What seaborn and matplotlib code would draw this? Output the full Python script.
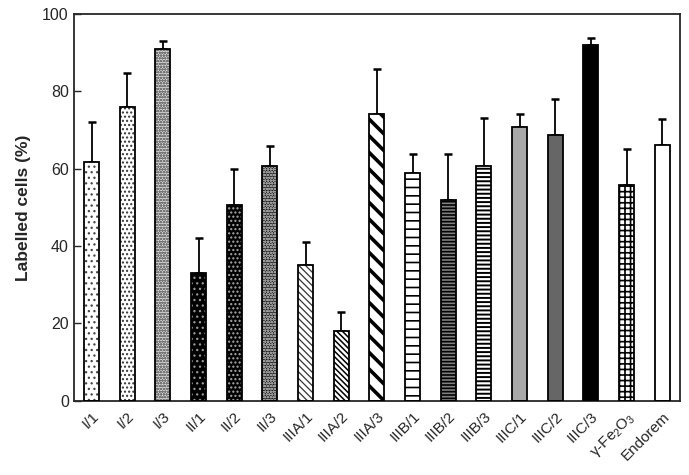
import matplotlib
matplotlib.use("Agg")
import matplotlib.pyplot as plt
import seaborn as sns
import pandas as pd

# values
samples = ["I/1", "I/2", "I/3", "II/1", "II/2", "II/3", "IIIA/1", "IIIA/2", "IIIA/3",
           "IIIB/1", "IIIB/2", "IIIB/3", "IIIC/1", "IIIC/2", "IIIC/3",
           "γ-Fe$_2$O$_3$", "Endorem"]
labelled = [61.8, 76, 90.8, 33, 50.6, 60.8, 35, 18, 74, 58.8, 51.8, 60.8, 70.8, 68.8, 92, 55.8, 66.2]
sd = [10.2, 8.8, 2.2, 9, 9.2, 5, 6, 5, 11.8, 5, 12, 12.2, 3.2, 9.2, 1.8, 9.2, 6.6]

# fill / hatch styling per bar
faces = ["white", "white", "#e0e0e0", "black", "black", "#1a1a1a", "white", "white", "white",
         "white", "#808080", "white", "#a8a8a8", "#666666", "black", "white", "white"]
hatch_cols = ["#444444", "#333333", "#777777", "#999999", "#aaaaaa", "#999999", "#333333", "black", "black",
              "black", "black", "black", "#a8a8a8", "#666666", "black", "black", "white"]
hatches = ["...", "....", "oooooo", "...", "....", "oooooo", "\\\\\\\\\\", "\\\\\\\\\\\\", "\\\\",
           "--", "-----", "----", "", "", "", "+++", ""]
hatch_lw = [0.9, 1, 0.8, 0.9, 1, 0.8, 0.9, 1.1, 2.6, 1.2, 1.2, 1.4, 1, 1, 1, 1.2, 1]

df = pd.DataFrame({"sample": samples, "labelled": labelled, "sd": sd})

sns.set_style("ticks")
plt.rcParams["font.family"] = ["Liberation Sans", "DejaVu Sans"]
plt.rcParams["mathtext.default"] = "regular"

fig = plt.figure(figsize=(6.89, 4.75), dpi=100)
ax = fig.add_axes([0.107, 0.156, 0.880, 0.815])

sns.barplot(data=df, x="sample", y="labelled", width=0.42, color="white",
            errorbar=None, ax=ax, zorder=2)

for i, p in enumerate(ax.patches):
    p.set_facecolor(faces[i])
    p.set_edgecolor(hatch_cols[i])
    p.set_hatch(hatches[i])
    if hasattr(p, "set_hatch_linewidth"):
        p.set_hatch_linewidth(hatch_lw[i])
    p.set_linewidth(0)
    # outline drawn separately so hatch colour can differ from border
    ax.add_patch(plt.Rectangle((p.get_x(), 0), p.get_width(), p.get_height(),
                               fill=False, edgecolor="black", linewidth=1.3, zorder=3))

x = range(len(samples))
ax.errorbar(x, df["labelled"], yerr=[[0] * len(sd), df["sd"]], fmt="none",
            ecolor="black", elinewidth=1.3, capsize=3, capthick=1.8, zorder=1)

ax.set_ylim(0, 100)
ax.set_xlim(-0.5, len(samples) - 0.5)
ax.set_yticks([0, 20, 40, 60, 80, 100])
ax.tick_params(axis="y", direction="in", length=5, labelsize=11.5, width=1)
ax.tick_params(axis="x", length=0, labelsize=11, pad=6)
plt.setp(ax.get_xticklabels(), rotation=45, ha="right", rotation_mode="anchor")
ax.set_xlabel("")
ax.set_ylabel("Labelled cells (%)", fontsize=12.5, fontweight="bold", labelpad=8)
for s in ax.spines.values():
    s.set_linewidth(1.3)
    s.set_visible(True)

fig.savefig("out.png", dpi=100)
